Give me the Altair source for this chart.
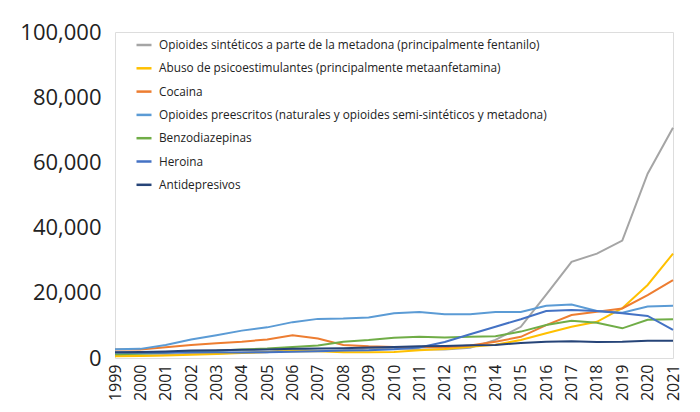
import altair as alt
import pandas as pd

years = list(range(1999, 2022))

series_names = [
    "Opioides sintéticos a parte de la metadona (principalmente fentanilo)",
    "Abuso de psicoestimulantes (principalmente metaanfetamina)",
    "Cocaina",
    "Opioides preescritos (naturales y opioides semi-sintéticos y metadona)",
    "Benzodiazepinas",
    "Heroina",
    "Antidepresivos",
]
series_colors = ["#a5a5a5", "#ffc000", "#ed7d31", "#5b9bd5", "#70ad47", "#4472c4", "#264478"]

fentanilo = [730, 782, 957, 1295, 1400, 1664, 1742, 2707, 2213, 2306, 2946, 3007, 2666,
             2628, 3105, 5544, 9580, 19413, 29500, 32000, 36000, 56516, 70601]
psicoestimulantes = [547, 578, 739, 994, 1265, 1546, 1847, 2113, 2053, 1730, 1727, 1854, 2379,
                     2758, 3421, 4100, 5500, 7600, 9600, 11100, 15300, 22400, 32000]
cocaina = [2600, 2600, 3300, 4000, 4500, 5000, 5700, 7000, 6000, 4000, 3600, 3400, 3400,
           3300, 3800, 5000, 6500, 10100, 13200, 14200, 15200, 19300, 23900]
preescritos = [2700, 2800, 4000, 5700, 7000, 8400, 9400, 11000, 12000, 12100, 12400, 13700, 14100,
               13400, 13400, 14100, 14100, 16000, 16400, 14400, 13900, 15800, 16000]
benzodiazepinas = [1135, 1298, 1594, 2129, 2248, 2600, 2900, 3400, 3800, 5000, 5500, 6200, 6500,
                   6300, 6500, 6700, 8100, 10100, 11400, 10800, 9100, 11700, 11900]
heroina = [1700, 1600, 1600, 1800, 1800, 1700, 1800, 1900, 2100, 2300, 2400, 2700, 3200,
           4900, 7300, 9600, 11900, 14400, 14700, 14400, 13700, 12900, 8600]
antidepresivos = [1749, 1810, 2000, 2300, 2400, 2500, 2600, 2800, 2900, 3000, 3200, 3400, 3600,
                  3700, 3900, 4000, 4600, 5000, 5100, 4900, 5000, 5300, 5300]

all_values = [fentanilo, psicoestimulantes, cocaina, preescritos, benzodiazepinas, heroina, antidepresivos]

rows = []
for name, vals in zip(series_names, all_values):
    for y, v in zip(years, vals):
        rows.append({"year": y, "value": v, "serie": name})
df = pd.DataFrame(rows)

font = "Open Sans"

chart = alt.Chart(df).mark_line(strokeWidth=2).encode(
    x=alt.X("year:Q",
            scale=alt.Scale(domain=[1999, 2021], nice=False, zero=False),
            axis=alt.Axis(values=years, format="d", labelAngle=270, labelFontSize=16,
                          labelFont=font, labelColor="#222222", labelPadding=6,
                          labelBaseline="middle", labelAlign="right",
                          domain=False, ticks=False, grid=False, title=None,
                          labelOverlap=False)),
    y=alt.Y("value:Q",
            scale=alt.Scale(domain=[0, 100000], nice=False),
            axis=alt.Axis(values=[0, 20000, 40000, 60000, 80000, 100000], format=",d",
                          labelFontSize=22, labelFont=font, labelColor="#222222",
                          labelPadding=14, domain=False, ticks=False, grid=False,
                          title=None)),
    color=alt.Color("serie:N",
                    scale=alt.Scale(domain=series_names, range=series_colors),
                    sort=series_names,
                    legend=alt.Legend(orient="none", legendX=20, legendY=4, title=None,
                                      symbolType="stroke", symbolStrokeWidth=2.5,
                                      symbolSize=225, labelFontSize=11.8, labelFont=font,
                                      labelColor="#222222", rowPadding=7.3,
                                      labelOffset=6, labelLimit=500)),
    order=alt.Order("serie:N"),
).properties(
    width=558,
    height=326,
    autosize=alt.AutoSizeParams(type="none"),
    padding={"left": 107, "top": 24, "right": 19, "bottom": 46},
).configure_view(
    stroke=None,
    fill="#fdfdfd",
).configure(background="white")

chart.save("out.html", embed_options={"renderer": "svg", "actions": False})
